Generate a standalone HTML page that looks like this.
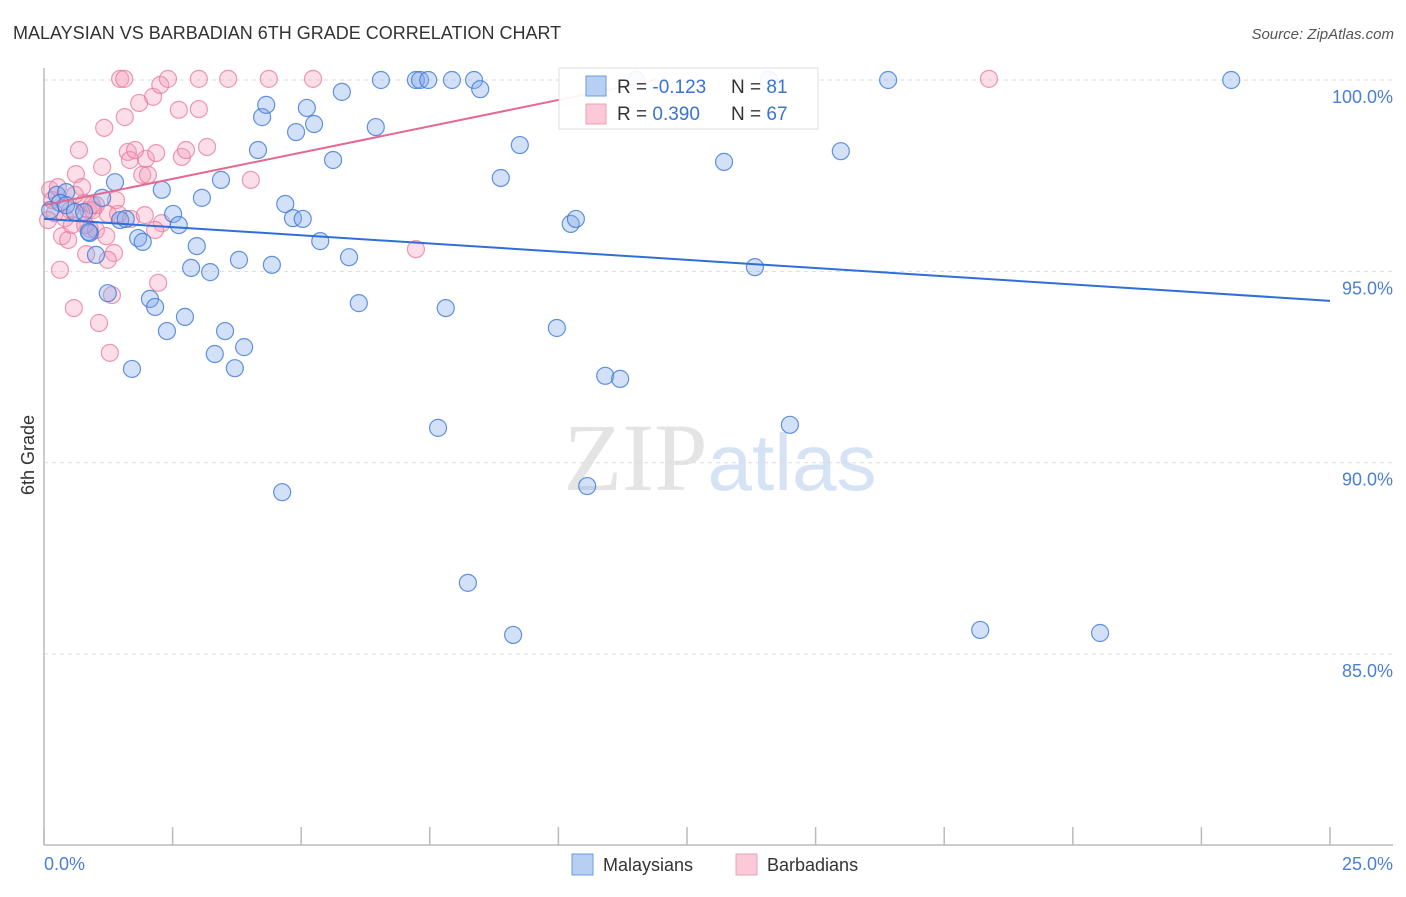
<!DOCTYPE html>
<html><head><meta charset="utf-8"><style>
body{margin:0;background:#fff;font-family:"Liberation Sans",sans-serif}
</style></head><body>
<svg id="chart" width="1406" height="892" xmlns="http://www.w3.org/2000/svg" font-family="Liberation Sans, sans-serif">
<text x="13" y="39" font-size="18" fill="#333">MALAYSIAN VS BARBADIAN 6TH GRADE CORRELATION CHART</text>
<text x="1394" y="39" font-size="15" fill="#555" text-anchor="end" font-style="italic">Source: ZipAtlas.com</text>
<text x="720" y="490" font-size="96" text-anchor="middle" fill="#e4e4e4" font-family="Liberation Serif, serif">ZIP<tspan fill="#d6e3f5" font-family="Liberation Sans, sans-serif" font-size="80">atlas</tspan></text>
<g id="grid"></g>
<line x1="44" y1="68" x2="44" y2="845" stroke="#bbb" stroke-width="1.5"/>
<line x1="44" y1="845" x2="1393" y2="845" stroke="#bbb" stroke-width="1.5"/>
<g id="xticks"></g>
<text x="44" y="870" font-size="18" fill="#4a7fd4">0.0%</text>
<text x="1393" y="870" font-size="18" fill="#4a7fd4" text-anchor="end">25.0%</text>
<text transform="translate(34,455) rotate(-90)" font-size="18" fill="#333" text-anchor="middle">6th Grade</text>
<g id="points"></g>
<g id="trends"></g>
<g>
<rect x="559" y="68" width="259" height="61" fill="#fff" stroke="#ddd" opacity="0.92"/>
<rect x="586" y="76" width="20" height="20" fill="#b7cff3" stroke="#6b9be0"/>
<rect x="586" y="104" width="20" height="20" fill="#fbc9d7" stroke="#eea0b7"/>
<text x="617" y="93" font-size="19" fill="#333">R = <tspan fill="#3a73d0">-0.123</tspan></text>
<text x="731" y="93" font-size="19" fill="#333">N = <tspan fill="#3a73d0"> 81</tspan></text>
<text x="617" y="120" font-size="19" fill="#333">R = <tspan fill="#3a73d0"> 0.390</tspan></text>
<text x="731" y="120" font-size="19" fill="#333">N = <tspan fill="#3a73d0">67</tspan></text>
</g>
<g>
<rect x="572" y="854" width="21" height="21" fill="#b7cff3" stroke="#6b9be0"/>
<text x="603" y="871" font-size="18" fill="#333">Malaysians</text></g>
<g>
<rect x="736" y="854" width="21" height="21" fill="#fbc9d7" stroke="#eea0b7"/>
<text x="767" y="871" font-size="18" fill="#333">Barbadians</text></g>
</svg>
<script>
const yTicks=[100,95,90,85];
const yTickLabels=["100.0%","95.0%","90.0%","85.0%"];
const xTicks=[0,2.5,5,7.5,10,12.5,15,17.5,20,22.5,25];
const malaysianPx=[[57,195],[66,192],[60,203],[66,205],[75,212],[84,212],[90,233],[96,255],[102,198],[108,293],[115,182],[120,220],[126,219],[132,369],[138,238],[143,242],[150,299],[155,307],[162,190],[167,331],[173,214],[179,225],[185,317],[191,268],[197,246],[202,198],[210,272],[215,354],[221,180],[225,331],[235,368],[239,260],[244,347],[258,150],[262,117],[266,105],[272,265],[282,492],[285,204],[293,218],[296,132],[303,219],[307,108],[314,124],[320,241],[333,160],[342,92],[349,257],[359,303],[376,127],[381,80],[416,80],[420,80],[428,80],[446,308],[452,80],[468,583],[474,80],[480,89],[501,178],[513,635],[520,145],[557,328],[571,224],[576,219],[587,486],[605,376],[620,379],[636,80],[724,162],[755,267],[769,80],[790,425],[841,151],[888,80],[980,630],[1100,633],[1231,80],[438,428],[89,232],[50,210]];
const barbadianPx=[[50,190],[52,200],[55,213],[58,187],[60,270],[62,236],[65,218],[68,240],[72,225],[74,308],[76,174],[79,150],[82,187],[84,203],[86,254],[88,210],[90,229],[93,210],[96,230],[99,323],[102,167],[104,128],[106,236],[108,214],[110,353],[112,295],[114,253],[116,200],[118,214],[120,79],[124,79],[125,117],[128,152],[131,219],[139,103],[142,175],[146,159],[148,175],[153,97],[156,153],[158,283],[160,85],[162,223],[168,79],[179,110],[182,157],[186,150],[199,79],[199,109],[207,147],[228,79],[251,180],[269,79],[313,79],[416,249],[989,79],[48,220],[70,210],[85,225],[96,205],[130,160],[145,215],[155,230],[108,260],[135,150],[92,205],[75,195]];
// convert read pixel estimates into data values (x: %, y: %)
const malaysianX=malaysianPx.map(p=>+((p[0]-44)/1286*25).toFixed(2));
const malaysianY=malaysianPx.map(p=>+(100-(p[1]-80)/38.27).toFixed(2));
const barbadianX=barbadianPx.map(p=>+((p[0]-44)/1286*25).toFixed(2));
const barbadianY=barbadianPx.map(p=>+(100-(p[1]-80)/38.27).toFixed(2));
const malaysianTrend=[[0,96.37],[25,94.23]];
const barbadianTrend=[[0,96.73],[11.9,100]];
const NS="http://www.w3.org/2000/svg";
const sx=v=>44+v/25*1286;
const sy=v=>80+(100-v)*38.27;
function mk(tag,attrs,parent){const e=document.createElementNS(NS,tag);for(const k in attrs)e.setAttribute(k,attrs[k]);parent.appendChild(e);return e;}
const grid=document.getElementById('grid');
yTicks.forEach((t,i)=>{
 const l=mk('line',{x1:44,x2:1393,y1:sy(t),y2:sy(t),stroke:'#ddd','stroke-dasharray':'4,4'},grid);
 
 
 const tx=mk('text',{x:1393,y:sy(t)+23,'font-size':18,fill:'#4a7fd4','text-anchor':'end'},grid);
 tx.textContent=yTickLabels[i];
 
 
});
const xt=document.getElementById('xticks');
xTicks.forEach(t=>{
 const l=mk('line',{x1:sx(t),x2:sx(t),y1:827,y2:845,stroke:'#bbb','stroke-width':1.5},xt);
 
 
});
const pts=document.getElementById('points');
barbadianX.forEach((x,i)=>{
 const c=mk('circle',{cx:sx(x),cy:sy(barbadianY[i]),r:8.5,fill:'rgba(244,160,188,0.35)',stroke:'rgba(232,120,155,0.75)','stroke-width':1.2},pts);
 
 
});
malaysianX.forEach((x,i)=>{
 const c=mk('circle',{cx:sx(x),cy:sy(malaysianY[i]),r:8.5,fill:'rgba(130,170,235,0.35)',stroke:'rgba(60,120,215,0.8)','stroke-width':1.2},pts);
 
 
});
const tr=document.getElementById('trends');
const t1=mk('line',{x1:sx(malaysianTrend[0][0]),y1:sy(malaysianTrend[0][1]),x2:sx(malaysianTrend[1][0]),y2:sy(malaysianTrend[1][1]),stroke:'#2f6fd6','stroke-width':2},tr);


const t2=mk('line',{x1:sx(barbadianTrend[0][0]),y1:sy(barbadianTrend[0][1]),x2:sx(barbadianTrend[1][0]),y2:sy(barbadianTrend[1][1]),stroke:'#e5688f','stroke-width':2},tr);


</script>
</body></html>
